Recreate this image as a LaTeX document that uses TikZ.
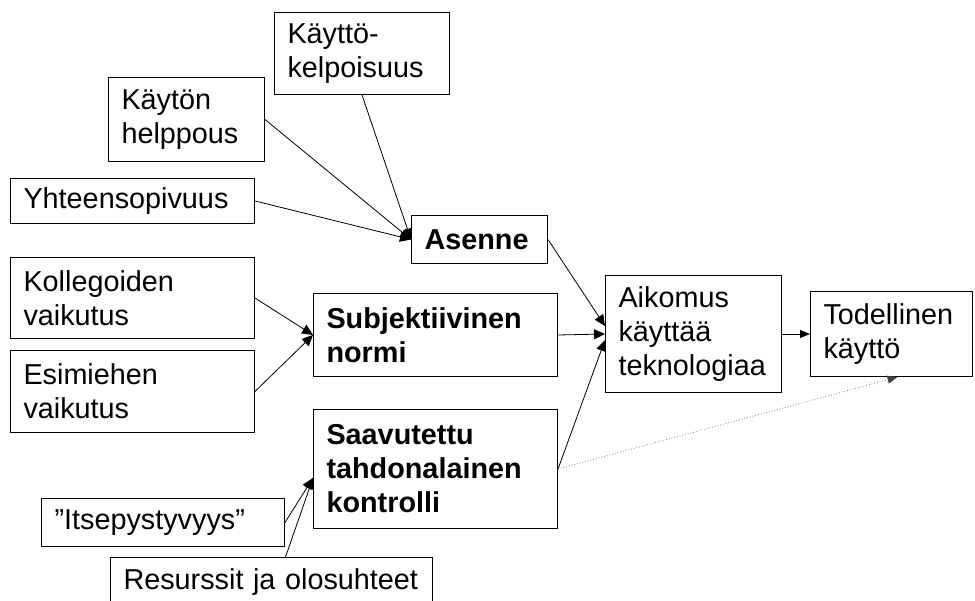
\documentclass[tikz,border=0pt]{standalone}
\usepackage{fontspec}
\setmainfont{Liberation Sans}
\usetikzlibrary{arrows.meta}
\begin{document}
\begin{tikzpicture}[x=1pt,y=-1pt,
  box/.style={draw=black,line width=1pt,anchor=north west,align=left,
    inner xsep=13pt,inner ysep=0pt,
    font=\fontsize{28.8}{34}\selectfont},
  bbox/.style={box,font=\fontsize{28.8}{34}\selectfont\bfseries},
  link/.style={line width=0.8pt,-{Triangle[length=11pt,width=10pt]}},
  weak/.style={line width=0.8pt,gray,dotted,-{Triangle[length=10pt,width=8pt,fill=black!75,color=black!75]}}]
\useasboundingbox (0,0) rectangle (975,601);
% factor boxes
\node[box,minimum width=175pt,minimum height=82pt,text width=149pt] (kk) at (274,12) {Käyttö-\\kelpoisuus};
\node[box,minimum width=156pt,minimum height=84pt,text width=130pt] (kh) at (108,77) {Käytön\\helppous};
\node[box,minimum width=244pt,minimum height=45pt,text width=218pt] (yh) at (10,178) {Yhteensopivuus};
\node[bbox,minimum width=136pt,minimum height=48pt,text width=110pt] (as) at (411,215) {Asenne};
\node[box,minimum width=244pt,minimum height=81pt,text width=218pt] (ko) at (10,257) {Kollegoiden\\vaikutus};
\node[bbox,minimum width=244pt,minimum height=83pt,text width=218pt] (sn) at (313,293) {Subjektiivinen\\normi};
\node[box,minimum width=244pt,minimum height=82pt,text width=218pt] (es) at (10,350) {Esimiehen\\vaikutus};
\node[bbox,minimum width=244pt,minimum height=119pt,text width=218pt] (sa) at (313,409) {Saavutettu\\tahdonalainen\\kontrolli};
\node[box,minimum width=243pt,minimum height=48pt,text width=217pt] (it) at (41,498) {”Itsepystyvyys”};
\node[box,minimum width=322pt,minimum height=50pt,text width=296pt] (re) at (110,557) {Resurssit ja olosuhteet};
\node[box,minimum width=176pt,minimum height=117pt,text width=150pt] (ai) at (605,275) {Aikomus\\käyttää\\teknologiaa};
\node[box,minimum width=162pt,minimum height=85pt,text width=136pt] (td) at (810,291) {Todellinen\\käyttö};
% connectors
\draw[link] (kk.south) -- (as.west);
\draw[link] (kh.east) -- (as.west);
\draw[link] (yh.east) -- (as.west);
\draw[link] (ko.east) -- (sn.west);
\draw[link] (es.east) -- (sn.west);
\draw[link] (it.east) -- ([yshift=-9pt]sa.west);
\draw[link] ([xshift=14pt]re.north) -- ([yshift=-9pt]sa.west);
\draw[link] (as.east) -- ([yshift=8pt]ai.west);
\draw[link] (sn.east) -- (ai.west);
\draw[link] (sa.east) -- ([yshift=-6pt]ai.west);
\draw[line width=0.8pt,-{Triangle[length=10pt,width=8pt]}] (ai.east) -- (td.west);
\draw[weak] (sa.east) -- ([xshift=6pt]td.south);
\end{tikzpicture}
\end{document}
